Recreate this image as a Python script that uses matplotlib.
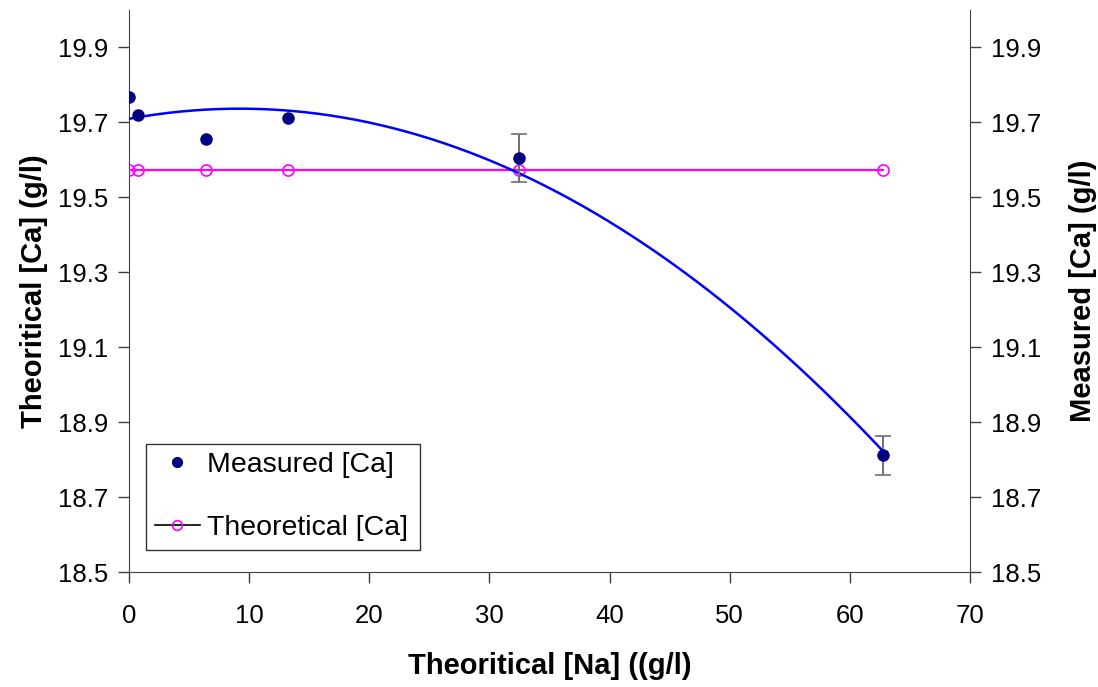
import numpy as np
import matplotlib
matplotlib.use("Agg")
import matplotlib.pyplot as plt
from matplotlib.lines import Line2D

plt.rcParams['font.family'] = ['Liberation Sans', 'DejaVu Sans']

na = [0.0, 0.75, 6.4, 13.2, 32.5, 62.8]
measured_ca = [19.767, 19.721, 19.657, 19.713, 19.604, 18.812]
measured_err = [0, 0, 0, 0, 0.064, 0.052]
theoretical_ca = [19.572, 19.572, 19.572, 19.572, 19.572, 19.572]
yticks = [18.5, 18.7, 18.9, 19.1, 19.3, 19.5, 19.7, 19.9]
xticks = [0, 10, 20, 30, 40, 50, 60, 70]

fig = plt.figure(figsize=(10.98, 6.87), dpi=100)
ax = fig.add_axes([129/1098, 1-572/687, (970-129)/1098, (572-10)/687])

# theoretical line
ax.plot(na, theoretical_ca, color='#FF00FF', lw=1.6, marker='o', ms=8,
        mfc='none', mec='#FF00FF', mew=1.2, zorder=3)
# trend line (2nd order polynomial)
coef = np.polyfit(na, measured_ca, 2)
xs = np.linspace(min(na), max(na), 300)
ax.plot(xs, np.polyval(coef, xs), color='#0000FF', lw=1.8, zorder=4)
# error bars (only where an error is given)
ex = [x for x, e in zip(na, measured_err) if e > 0]
ey = [y for y, e in zip(measured_ca, measured_err) if e > 0]
ee = [e for e in measured_err if e > 0]
ax.errorbar(ex, ey, yerr=ee, fmt='none', ecolor='#707070',
            elinewidth=1.4, capsize=6, capthick=1.2, zorder=4)
ax.plot(na, measured_ca, 'o', color='#000080', ms=8, zorder=5, ls='none')

ax.set_xlim(0, 70)
ax.set_ylim(18.5, 20.0)
ax.set_xticks(xticks)
ax.set_yticks(yticks)
ax.set_yticklabels([f"{v:.1f}" for v in yticks])
ax.spines['top'].set_visible(False)
ax.spines['right'].set_visible(False)
for s in ['left', 'bottom']:
    ax.spines[s].set_color('#404040')
ax.tick_params(axis='both', labelsize=18.5, direction='out', length=8, width=1,
               color='#404040', pad=7)
ax.tick_params(axis='x', pad=15)
ax.set_xlabel('Theoritical [Na] ((g/l)', fontsize=21, fontweight='bold', labelpad=17)
ax.set_ylabel('Theoritical [Ca] (g/l)', fontsize=21, fontweight='bold', labelpad=7)

ax2 = ax.twinx()
ax2.set_ylim(18.5, 20.0)
ax2.set_yticks(yticks)
ax2.set_yticklabels([f"{v:.1f}" for v in yticks])
ax2.spines['top'].set_visible(False)
ax2.spines['left'].set_visible(False)
ax2.spines['bottom'].set_visible(False)
ax2.spines['right'].set_color('#404040')
ax2.tick_params(axis='y', labelsize=18.5, direction='out', length=8, width=1,
                color='#404040', pad=7)
ax2.set_ylabel('Measured [Ca] (g/l)', fontsize=21, fontweight='bold', labelpad=20)

handles = [
    Line2D([], [], ls='none', marker='o', color='#000080', ms=7),
    Line2D([], [], color='black', lw=1.2, marker='o', ms=7, mfc='none',
           mec='#FF00FF', mew=1.2),
]
leg = ax.legend(handles, ['Measured [Ca]', 'Theoretical [Ca]'],
                loc='lower left', bbox_to_anchor=((146-129)/841, (572-550)/562,
                                                  (420-146)/841, (550-410)/562),
                mode='expand', fontsize=20.5, frameon=True, fancybox=False,
                edgecolor='black', borderaxespad=0, labelspacing=1.3,
                handlelength=1.6, handletextpad=0.25, borderpad=0.3)
leg.get_frame().set_linewidth(1.0)

fig.savefig('out.png', dpi=100)
